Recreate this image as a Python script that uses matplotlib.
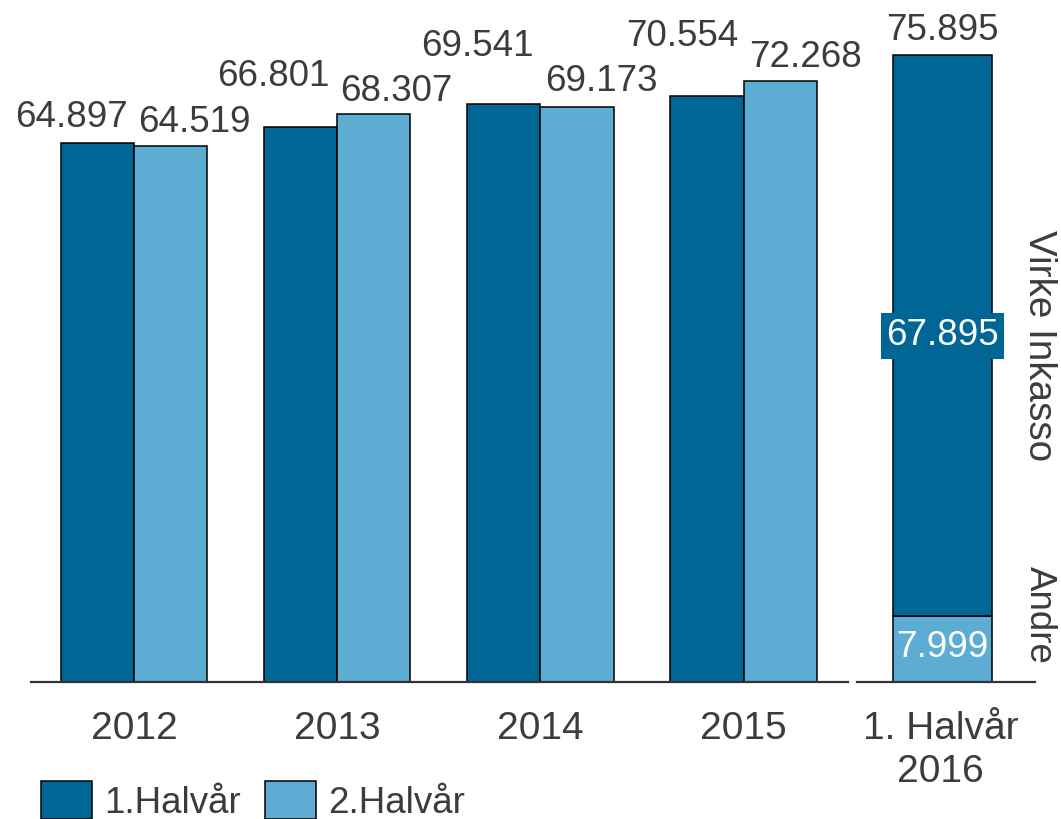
import numpy as np
import matplotlib.pyplot as plt
from matplotlib.patches import Patch

years = ['2012', '2013', '2014', '2015']
h1 = [64.897, 66.801, 69.541, 70.554]
h2 = [64.519, 68.307, 69.173, 72.268]

cat_2016 = '1. Halvår\n2016'
andre_2016 = 7.999
virke_2016 = 67.895
total_2016 = 75.895
seg_names = ['Andre', 'Virke Inkasso']

dark = '#006695'
light = '#5cacd3'
txt = '#3c3c3c'
fs = 26.5

plt.rcParams['font.family'] = ['Liberation Sans', 'DejaVu Sans']

fig = plt.figure(figsize=(10.61, 8.19), dpi=100)
W, H = 1061, 819
y0 = (H - 682) / H
ax = fig.add_axes([31 / W, y0, 817 / W, 682 / H])
ax2 = fig.add_axes([857 / W, y0, 178 / W, 682 / H])
ax2.patch.set_visible(False)

x = np.arange(len(years))
bw = 0.36
b1 = ax.bar(x - bw / 2, h1, bw, color=dark, edgecolor='black', linewidth=1.1)
b2 = ax.bar(x + bw / 2, h2, bw, color=light, edgecolor='black', linewidth=1.1)
ax.set_xlim(-0.507, 3.514)
ax.set_ylim(0, 682 / 8.31)

# label offsets in pixels (dx, up) from top centre of each bar
off1 = [(-26, 25), (-27, 50), (-26, 58), (-25, 59)]
off2 = [(24, 23), (23, 23), (24, 26), (25, 24)]
for bars, vals, offs in [(b1, h1, off1), (b2, h2, off2)]:
    for b, v, (dx, up) in zip(bars, vals, offs):
        ax.annotate(f'{v:.3f}', (b.get_x() + b.get_width() / 2, v),
                    xytext=(dx * 0.72, up * 0.72), textcoords='offset points',
                    ha='center', va='center', fontsize=fs, color=txt,
                    annotation_clip=False)

ax.set_xticks(x)
ax.set_xticklabels(years)

# 2016 stacked bar
ax2.bar([0], [andre_2016], 0.556, color=light, edgecolor='black', linewidth=1.1)
ax2.bar([0], [virke_2016], 0.556, bottom=[andre_2016], color=dark,
        edgecolor='black', linewidth=1.1)
ax2.set_xlim(-0.48, 0.52)
ax2.set_ylim(0, 682 / 8.26)
ax2.annotate(f'{total_2016:.3f}', (0, total_2016), xytext=(0, 25 * 0.72),
             textcoords='offset points', ha='center', va='center',
             fontsize=fs, color=txt)
ax2.text(0, andre_2016 + virke_2016 / 2, f'{virke_2016:.3f}', ha='center',
         va='center', fontsize=fs, color='white',
         bbox=dict(boxstyle='square,pad=0.15', fc=dark, ec='none'))
ax2.annotate(f'{andre_2016:.3f}', (0, andre_2016 / 2), xytext=(0, 1 * 0.72),
             textcoords='offset points', ha='center', va='center',
             fontsize=fs, color='white')
ax2.annotate(seg_names[1], (1.025, andre_2016 + virke_2016 / 2),
             xycoords=('axes fraction', 'data'), xytext=(0, -10 * 0.72),
             textcoords='offset points', rotation=270, ha='center',
             va='center', fontsize=27.8, color=txt)
ax2.annotate(seg_names[0], (1.025, andre_2016 / 2),
             xycoords=('axes fraction', 'data'), xytext=(0, 34 * 0.72),
             textcoords='offset points', rotation=270, ha='center',
             va='center', fontsize=fs, color=txt)
ax2.set_xticks([-0.01])
ax2.set_xticklabels([cat_2016], linespacing=1.25)

for a in (ax, ax2):
    for s in ['top', 'left', 'right']:
        a.spines[s].set_visible(False)
    a.spines['bottom'].set_color('#333333')
    a.spines['bottom'].set_linewidth(1.6)
    a.set_yticks([])
    a.tick_params(axis='x', length=0, pad=21, labelsize=28, labelcolor=txt)

handles = [Patch(facecolor=dark, edgecolor='black', linewidth=1.1),
           Patch(facecolor=light, edgecolor='black', linewidth=1.1)]
fig.legend(handles, ['1.Halvår', '2.Halvår'], loc='center left',
           bbox_to_anchor=(41 / W, 1 - 801 / H), ncol=2, frameon=False,
           fontsize=fs, labelcolor=txt, borderpad=0, borderaxespad=0,
           handlelength=1.39, handleheight=1.2, handletextpad=0.33,
           columnspacing=0.65)

fig.savefig('out.png', dpi=100)
